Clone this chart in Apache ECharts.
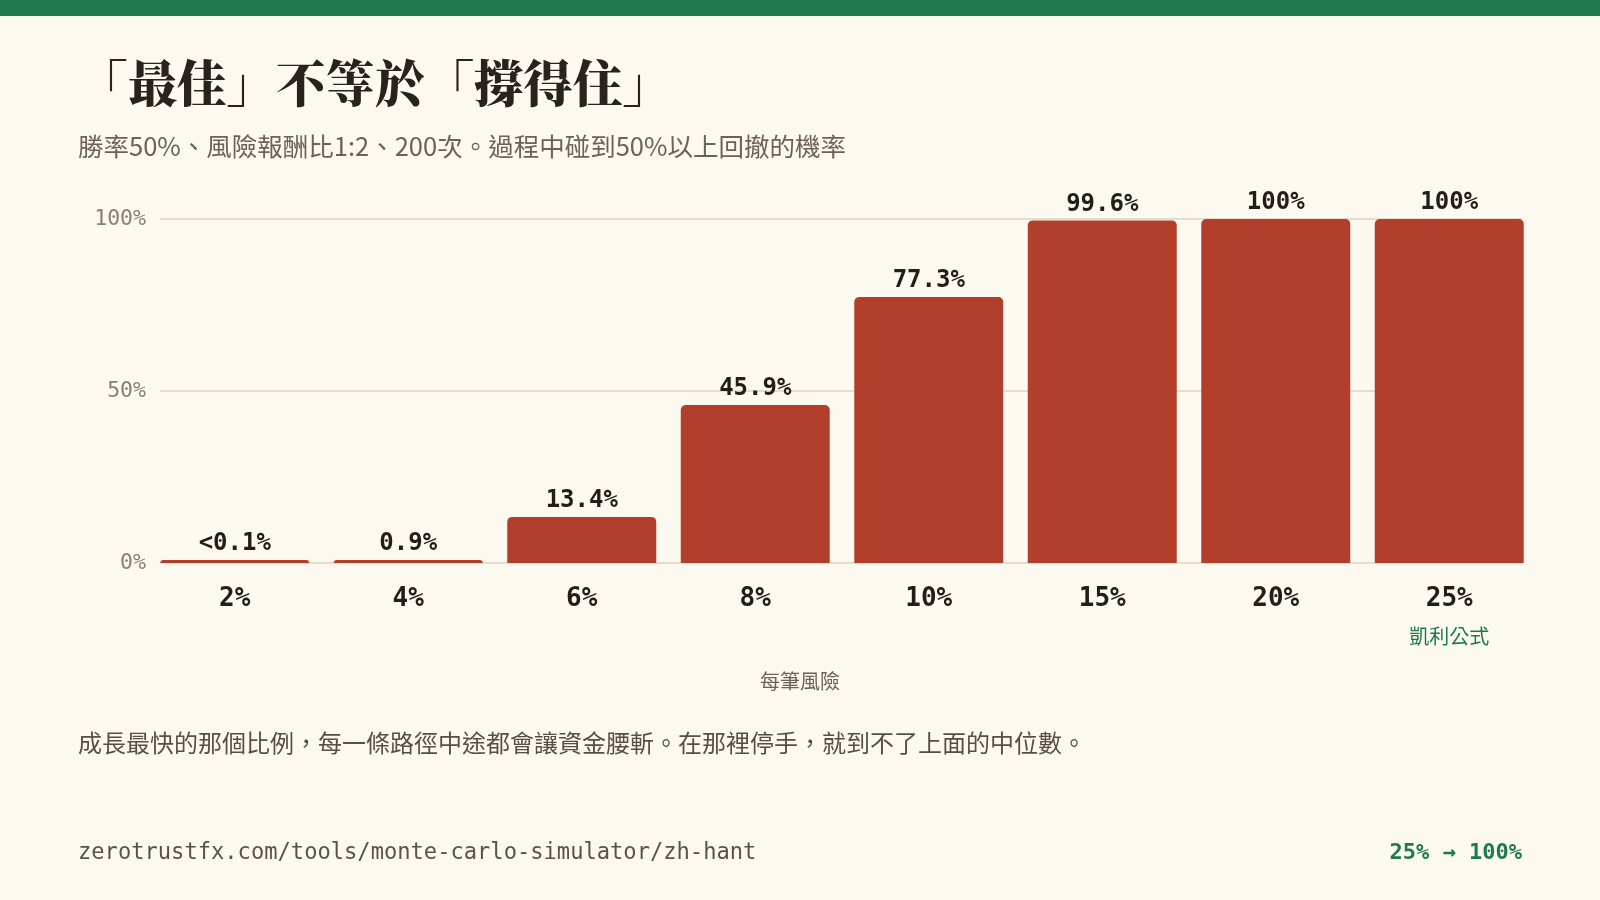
<!DOCTYPE html>
<html lang="zh-Hant">
<head>
<meta charset="UTF-8">
<title>「最佳」不等於「撐得住」</title>
<script src="https://cdn.jsdelivr.net/npm/echarts@6/dist/echarts.min.js"></script>
<style>
  html, body { margin: 0; padding: 0; background: #fcf9f0; }
  #chart { width: 1600px; height: 900px; }
</style>
</head>
<body>
<div id="chart"></div>
<script>
// 每筆風險 vs 碰到 50% 以上回撤的機率
var categories = ['2%', '4%', '6%', '8%', '10%', '15%', '20%', '25%'];
var drawdownProb = [0.05, 0.9, 13.4, 45.9, 77.3, 99.6, 100, 100];
var valueLabels = ['<0.1%', '0.9%', '13.4%', '45.9%', '77.3%', '99.6%', '100%', '100%'];
var kellyIndex = 7;
var yMin = 0, yMax = 100, yStep = 50;

var mono = '"DejaVu Sans Mono", "Liberation Mono", monospace';
var cjk = '"Noto Sans CJK TC", "Noto Sans", sans-serif';

var chart = echarts.init(document.getElementById('chart'));

chart.setOption({
  backgroundColor: '#fcf9f0',
  animation: false,
  graphic: [{
    type: 'rect',
    shape: { x: 0, y: 0, width: 1600, height: 16 },
    style: { fill: '#1e7a4e' }
  }],
  title: [
    {
      text: '「最佳」不等於「撐得住」',
      left: 78, top: 58, padding: 0,
      textStyle: { fontFamily: '"Noto Serif CJK TC", ' + cjk, fontSize: 49.5, fontWeight: 900, color: '#2a231d' }
    },
    {
      text: '勝率50%、風險報酬比1:2、200次。過程中碰到50%以上回撤的機率',
      left: 78, top: 134, padding: 0,
      textStyle: { fontFamily: cjk, fontSize: 25.5, fontWeight: 'normal', color: '#6e6157' }
    },
    {
      text: '每筆風險',
      left: 'center', top: 671, padding: 0,
      textStyle: { fontFamily: cjk, fontSize: 20, fontWeight: 'normal', color: '#6e6157' }
    },
    {
      text: '成長最快的那個比例，每一條路徑中途都會讓資金腰斬。在那裡停手，就到不了上面的中位數。',
      left: 78, top: 731, padding: 0,
      textStyle: { fontFamily: cjk, fontSize: 24, fontWeight: 'normal', color: '#5a4d43' }
    },
    {
      text: 'zerotrustfx.com/tools/monte-carlo-simulator/zh-hant',
      left: 78, top: 842, padding: 0,
      textStyle: { fontFamily: mono, fontSize: 22.1, fontWeight: 'normal', color: '#5e5248' }
    },
    {
      text: categories[kellyIndex] + ' \u2192 ' + valueLabels[kellyIndex],
      right: 78, top: 842, padding: 0,
      textStyle: { fontFamily: mono, fontSize: 22, fontWeight: 'bold', color: '#1e7a4e' }
    }
  ],
  grid: [
    { left: 148, right: 64, top: 219, bottom: 337 },
    { left: 160, right: 78, top: 219, bottom: 337 }
  ],
  xAxis: [
    {
      type: 'category',
      gridIndex: 0,
      data: categories,
      axisLine: { show: false },
      axisTick: { show: false },
      axisLabel: {
        interval: 0,
        margin: 21,
        fontFamily: mono,
        fontSize: 26,
        fontWeight: 'bold',
        color: '#241e19',
        lineHeight: 30,
        formatter: function (v, i) {
          return i === kellyIndex ? v + '\n{k|凱利公式}' : v;
        },
        rich: {
          k: { fontFamily: cjk, fontSize: 20, fontWeight: 'normal', color: '#1e7a4e', lineHeight: 44 }
        }
      }
    },
    {
      type: 'value',
      gridIndex: 1,
      show: false,
      min: 0, max: 1
    }
  ],
  yAxis: [
    {
      type: 'value',
      gridIndex: 0,
      min: yMin, max: yMax, interval: yStep,
      show: false
    },
    {
      type: 'value',
      gridIndex: 1,
      min: yMin, max: yMax, interval: yStep,
      axisLine: { show: false },
      axisTick: { show: false },
      splitLine: { lineStyle: { color: '#ddd5c2', width: 1.5 } },
      axisLabel: {
        margin: 14,
        padding: [4, 0, 0, 0],
        formatter: '{value}%',
        fontFamily: mono,
        fontSize: 21.5,
        color: '#8a7f73'
      }
    }
  ],
  series: [{
    type: 'bar',
    xAxisIndex: 0,
    yAxisIndex: 0,
    data: drawdownProb,
    barWidth: 149,
    barMinHeight: 3,
    itemStyle: { color: '#b23f2b', borderRadius: [5, 5, 0, 0] },
    label: {
      show: true,
      position: 'top',
      distance: 4,
      fontFamily: mono,
      fontSize: 24,
      fontWeight: 'bold',
      color: '#241e19',
      formatter: function (p) { return valueLabels[p.dataIndex]; }
    }
  }]
});
</script>
</body>
</html>
